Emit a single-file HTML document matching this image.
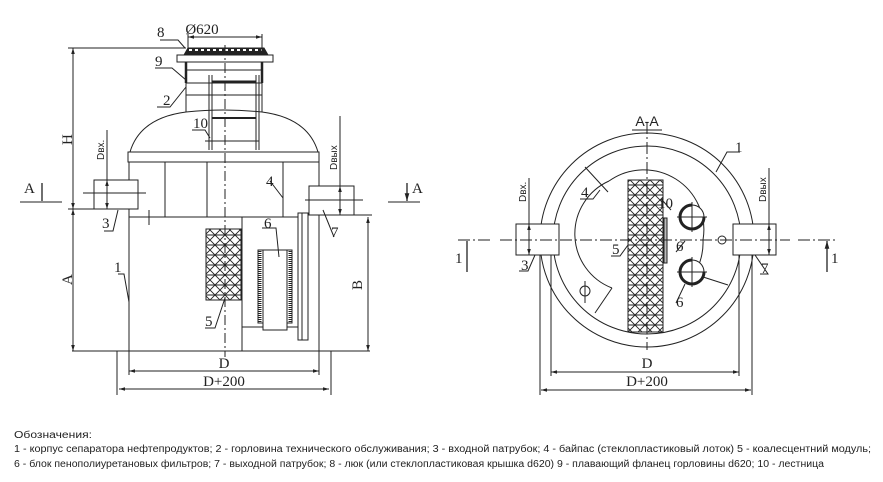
<!DOCTYPE html>
<html><head><meta charset="utf-8"><style>
html,body{margin:0;padding:0;background:#fff}
svg{display:block}
text{font-family:"Liberation Serif","DejaVu Serif",serif;fill:#222}
.s{font-family:"Liberation Sans","DejaVu Sans",sans-serif}
</style></head><body>
<svg width="883" height="482" viewBox="0 0 883 482" xmlns="http://www.w3.org/2000/svg">
<defs>
<pattern id="hx" width="10" height="10" patternUnits="userSpaceOnUse">
<rect width="10" height="10" fill="#fff"/>
<path d="M0 0L10 10M10 0L0 10M0 5H10" stroke="#222" stroke-width="0.9"/>
</pattern>
<marker id="ar" viewBox="0 0 10 10" refX="10" refY="5" markerWidth="8" markerHeight="6" orient="auto-start-reverse"><path d="M0 2L10 5L0 8z" fill="#222"/></marker>
</defs>
<g fill="none" stroke="#222" stroke-width="1">
<path d="M129 162V351M319 162V351"/>
<path d="M72 351H370"/>
<path d="M129 217H300"/>
<rect x="128" y="152" width="191" height="10"/>
<path d="M130 152Q140 118 186 112Q224 108 262 112Q308 118 318 152"/>
<path d="M186 62V112M262 62V112M186 70H262M186 83H262M186 95H262"/>
<path d="M186 62V83M262 62V83" stroke-width="2.5"/>
<rect x="177" y="55" width="96" height="7"/>
<path d="M184 55L188 48H264L268 55Z" fill="#222"/>
<path d="M189 50H262" stroke="#fff" stroke-width="2" stroke-dasharray="3 3"/>
<path d="M209 75V150M212 75V150M256 75V150M259 75V150M212 81H256M212 118H256M205 141H259"/>
<path d="M212 82H256M212 118H256" stroke-width="2"/>
<path d="M165 162V217M207 162V217M283 162V217"/>
<path d="M242 217V351M242 327H298"/>
<path d="M149 210V225"/>
<rect x="206" y="229" width="35" height="71" fill="url(#hx)"/>
<rect x="258" y="250" width="34" height="73"/>
<rect x="263" y="250" width="24" height="80" fill="#fff"/>
<path d="M260 251V322M290 251V322" stroke-width="3" stroke-dasharray="1 1"/>
<rect x="298" y="213" width="10" height="127" fill="#fff"/>
<path d="M302 213V340"/>
<rect x="94" y="180" width="44" height="29" fill="#fff"/>
<rect x="309" y="186" width="45" height="29" fill="#fff"/>
<path d="M83 193H146M305 200H363"/>
<path d="M225 45V357" stroke-dasharray="10 3 2 3"/>
<path d="M73 48V209" marker-start="url(#ar)" marker-end="url(#ar)"/>
<path d="M73 209V351" marker-start="url(#ar)" marker-end="url(#ar)"/>
<path d="M68 48H186M68 209H138"/>
<path d="M368 217V351" marker-start="url(#ar)" marker-end="url(#ar)"/>
<path d="M354 215H372"/>
<path d="M107 130V209" />
<path d="M107 180V209" marker-start="url(#ar)" marker-end="url(#ar)"/>
<path d="M340 116V215"/>
<path d="M340 186V215" marker-start="url(#ar)" marker-end="url(#ar)"/>
<path d="M188 37H262" marker-start="url(#ar)" marker-end="url(#ar)"/>
<path d="M188 34V55M262 34V55"/>
<path d="M129 351V375M319 351V375M117 351V395M331 351V395"/>
<path d="M129 371H319" marker-start="url(#ar)" marker-end="url(#ar)"/>
<path d="M119 389H329" marker-start="url(#ar)" marker-end="url(#ar)"/>
<path d="M20 202H62M388 202H420"/>
<path d="M42 183V201M407 183V201" stroke-width="1.3" marker-end="url(#ar)"/>
<path d="M160 40H178L185 48M155 68H172L186 80M157 107H170L186 87M192 130H205L210 138M104 231H113L118 210M118 274H124L129 302M205 328H215L225 298M262 228H276L279 257M334 237L323 210M270 181L283 198"/>
<circle cx="647" cy="240" r="107"/>
<circle cx="647" cy="240" r="94"/>
<path d="M609 181A60 60 0 0 1 703 240"/>
<path d="M612 288L595 313M585 167L608 192M700 276L728 285"/>
<path d="M609 181A58 58 0 0 0 612 288"/>
<path d="M703 240A60 60 0 0 1 690 280"/>
<rect x="628" y="180" width="35" height="152" fill="url(#hx)"/>
<rect x="664" y="218" width="3" height="45" fill="#bbb"/>
<circle cx="692" cy="217" r="12" fill="#fff"/>
<circle cx="692" cy="272" r="12" fill="#fff"/>
<circle cx="692" cy="217" r="12" stroke-width="3" stroke-dasharray="56.5 19"/>
<circle cx="692" cy="272" r="12" stroke-width="3" stroke-dasharray="56.5 19"/>
<path d="M677 217H707M692 202V232M677 272H707M692 257V287"/>
<circle cx="585" cy="291" r="5"/><path d="M585 281V303"/>
<circle cx="722" cy="240" r="4"/>
<rect x="516" y="224" width="43" height="31" fill="#fff"/>
<rect x="733" y="224" width="43" height="31" fill="#fff"/>
<path d="M458 240H492M798 240H835M500 240H790" stroke-dasharray="12 3 2 3"/>
<path d="M647 122V350" stroke-dasharray="12 3 2 3"/>
<path d="M529 178V255"/>
<path d="M529 224V255" marker-start="url(#ar)" marker-end="url(#ar)"/>
<path d="M769 168V255"/>
<path d="M769 224V255" marker-start="url(#ar)" marker-end="url(#ar)"/>
<path d="M467 272V241M827 272V241" stroke-width="1.3" marker-end="url(#ar)"/>
<path d="M540 255V395M551 255V376M739 255V376M752 255V395"/>
<path d="M551 372H739" marker-start="url(#ar)" marker-end="url(#ar)"/>
<path d="M541 390H751" marker-start="url(#ar)" marker-end="url(#ar)"/>
<path d="M632 130H662"/>
<path d="M740 152H727L716 172M580 199H593L600 190M611 256H620L628 245M663 201L671 210M676 252L685 241M676 303L685 284M519 271H528L535 255M760 274H768L755 255"/>
</g>
<g font-size="15">
<text x="202" y="34" text-anchor="middle" font-size="15">Ø620</text>
<text x="157" y="37">8</text><text x="155" y="66">9</text><text x="163" y="105">2</text><text x="193" y="128">10</text>
<text x="102" y="228">3</text><text x="114" y="272">1</text><text x="266" y="186">4</text><text x="205" y="326">5</text><text x="264" y="228">6</text><text x="331" y="237">7</text>
<text x="24" y="193">A</text><text x="412" y="193">A</text>
<text transform="translate(72,145) rotate(-90)">H</text>
<text transform="translate(72,285) rotate(-90)">A</text>
<text transform="translate(362,290) rotate(-90)">B</text>
<text x="224" y="368" text-anchor="middle">D</text>
<text x="224" y="386" text-anchor="middle">D+200</text>
<text x="735" y="152">1</text><text x="581" y="197">4</text><text x="612" y="254">5</text><text x="658" y="208">10</text><text x="676" y="251">6</text><text x="676" y="307">6</text>
<text x="521" y="270">3</text><text x="761" y="273">7</text>
<text x="455" y="263">1</text><text x="831" y="263">1</text>
<text x="647" y="368" text-anchor="middle">D</text>
<text x="647" y="386" text-anchor="middle">D+200</text>
</g>
<text class="s" x="647" y="126" text-anchor="middle" font-size="14">A-A</text>
<text class="s" font-size="10" transform="translate(104,160) rotate(-90)">Dвх.</text>
<text class="s" font-size="10" transform="translate(337,170) rotate(-90)">Dвых</text>
<text class="s" font-size="10" transform="translate(526,202) rotate(-90)">Dвх.</text>
<text class="s" font-size="10" transform="translate(766,202) rotate(-90)">Dвых</text>
<g class="s" font-size="10">
<text class="s" x="14" y="438" textLength="78" lengthAdjust="spacingAndGlyphs">Обозначения:</text>
<text class="s" x="14" y="452" textLength="857" lengthAdjust="spacingAndGlyphs">1 - корпус сепаратора нефтепродуктов; 2 - горловина технического обслуживания; 3 - входной патрубок; 4 - байпас (стеклопластиковый лоток) 5 - коалесцентний модуль;</text>
<text class="s" x="14" y="467" textLength="810" lengthAdjust="spacingAndGlyphs">6 - блок пенополиуретановых фильтров; 7 - выходной патрубок; 8 - люк (или стеклопластиковая крышка d620) 9 - плавающий фланец горловины d620; 10 - лестница</text>
</g>
</svg>
</body></html>
